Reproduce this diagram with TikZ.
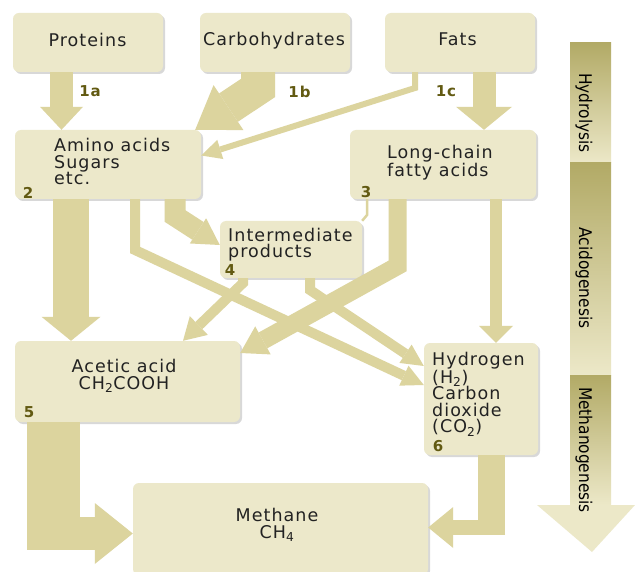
\documentclass[tikz,border=0pt]{standalone}
\usepackage{fontspec}
\setmainfont{DejaVu Sans}[LetterSpace=6]
\newfontfamily\barfont{DejaVu Sans}[FakeStretch=0.88]
\usetikzlibrary{arrows.meta,shadows}

\definecolor{boxc}{HTML}{ECE8CA}
\definecolor{arrowc}{HTML}{DCD49E}
\definecolor{bard}{HTML}{B2AA66}
\definecolor{barl}{HTML}{ECE8C8}
\definecolor{numc}{HTML}{625A12}
\definecolor{txtc}{HTML}{222222}

\tikzset{flow/.style n args={3}{draw=arrowc, line width=#1, -{Triangle[width=#2,length=#3,line width=0pt]}}}

\begin{document}
\begin{tikzpicture}[x=1pt,y=-1pt]
\tikzstyle{box}=[fill=boxc, rounded corners=6pt, inner sep=0pt, drop shadow={opacity=0.3,shadow xshift=2pt,shadow yshift=-2pt}]
\tikzstyle{txt}=[inner sep=0pt, align=left, text=txtc, font=\fontsize{17.5}{16.6}\selectfont]
\tikzstyle{num}=[inner sep=0pt, text=numc, font=\fontsize{15}{15}\selectfont\bfseries]
\tikzstyle{phase}=[inner sep=0pt, rotate=-90, text=black, font=\barfont\fontsize{17.5}{17.5}\selectfont]
\path[fill=white, use as bounding box] (0,0) rectangle (635,572);

% boxes
\node[box, minimum width=150pt, minimum height=59pt] (prot) at (88,42.5) {};
\node[box, minimum width=150pt, minimum height=59pt] (carb) at (275,42.5) {};
\node[box, minimum width=150pt, minimum height=59pt] (fats) at (460,42.5) {};
\node[box, minimum width=186pt, minimum height=69pt] (amino) at (108,164.5) {};
\node[box, minimum width=186pt, minimum height=69pt] (lcfa) at (443,164.5) {};
\node[box, minimum width=142pt, minimum height=57pt] (inter) at (291,249.5) {};
\node[box, minimum width=225pt, minimum height=81pt] (acetic) at (127.5,381.5) {};
\node[box, minimum width=114pt, minimum height=112pt] (hydro) at (481,399) {};
\node[box, minimum width=295pt, minimum height=92pt] (meth) at (280.5,529) {};

% texts
\node[txt] (prot-t) at (87.5,39.5) {Proteins};
\node[txt] (carb-t) at (274,40.5) {Carbohydrates};
\node[txt] (fats-t) at (457.5,39.5) {Fats};
\node[txt, anchor=west] (amino-t) at (54,161.5) {Amino acids\\Sugars\\etc.};
\node[txt, anchor=west] (lcfa-t) at (387,163) {Long-chain\\fatty acids};
\node[txt, anchor=west] (inter-t) at (228,244.5) {Intermediate\\products};
\node[txt, align=center] (acetic-t) at (124,376) {Acetic acid\\CH\textsubscript{2}COOH};
\node[txt, anchor=west] (hydro-t) at (432,394) {Hydrogen\\(H\textsubscript{2})\\Carbon\\dioxide\\(CO\textsubscript{2})};
\node[txt, align=center] (meth-t) at (277,525) {Methane\\CH\textsubscript{4}};

% step numbers
\node[num] (n1a) at (90,91.5) {1a};
\node[num] (n1b) at (299.5,91.5) {1b};
\node[num] (n1c) at (446,91.5) {1c};
\node[num] (n2) at (28,192.5) {2};
\node[num] (n3) at (366,192) {3};
\node[num] (n4) at (230,270) {4};
\node[num] (n5) at (29,412.5) {5};
\node[num] (n6) at (438,446.5) {6};

% hydrolysis
\draw[flow={23pt}{43pt}{23pt}] (61.5,0 |- prot.south) -- (61.5,0 |- amino.north);
\draw[flow={34pt}{54pt}{40pt}] (258,0 |- carb.south) -- (258,88) -- ([xshift=-6pt]amino.north east);
\draw[flow={6pt}{20pt}{20pt}] (415,0 |- fats.south) -- (415,88) -- ([yshift=9pt]amino.east);
\draw[flow={23pt}{56pt}{23pt}] (484,0 |- fats.south) -- (484,0 |- lcfa.north);

% acidogenesis
\draw[flow={36pt}{59pt}{24pt}] (71,0 |- amino.south) -- (71,0 |- acetic.north);
\draw[flow={10pt}{22pt}{22pt}] (135,0 |- amino.south) -- (135,250) -- (hydro.west |- 0,385);
\draw[flow={21pt}{30pt}{26pt}] (175,0 |- amino.south) -- (175,216) -- (inter.west |- 0,245);
\draw[line width=2.5pt, arrowc] (367,0 |- lcfa.south) -- (367,215) -- (inter.north east);
\draw[flow={18pt}{32pt}{26pt}] (397.5,0 |- lcfa.south) -- (397.5,266) -- (acetic.east |- 0,353);
\draw[flow={12pt}{34pt}{17pt}] (496,0 |- lcfa.south) -- (496,0 |- hydro.north);
\draw[flow={10pt}{26pt}{22pt}] (243,0 |- inter.south) -- (243,283) -- (183,0 |- acetic.north);
\draw[flow={10pt}{22pt}{22pt}] (310,0 |- inter.south) -- (310,290) -- (hydro.west |- 0,366);

% methanogenesis
\draw[arrowc, line width=53pt] (53.5,0 |- acetic.south) -- (53.5,550);
\draw[flow={33pt}{61pt}{38pt}] (27,533.5) -- (meth.west |- 0,533.5);
\draw[arrowc, line width=27pt] (491.5,0 |- hydro.south) -- (491.5,535);
\draw[flow={15pt}{41pt}{25pt}] (505,527.5) -- (meth.east |- 0,527.5);

% phase bar
\shade[top color=bard, bottom color=barl] (570,43) rectangle (611,163);
\shade[top color=bard, bottom color=barl] (570,163) rectangle (611,375);
\shade[top color=bard, bottom color=barl] (570,375) rectangle (611,505);
\fill[barl] (537,505) -- (635,505) -- (592,552) -- cycle;
\node[phase] (hyd) at (584,113) {Hydrolysis};
\node[phase] (acid) at (584,278) {Acidogenesis};
\node[phase] (methg) at (584,450) {Methanogenesis};
\end{tikzpicture}
\end{document}
